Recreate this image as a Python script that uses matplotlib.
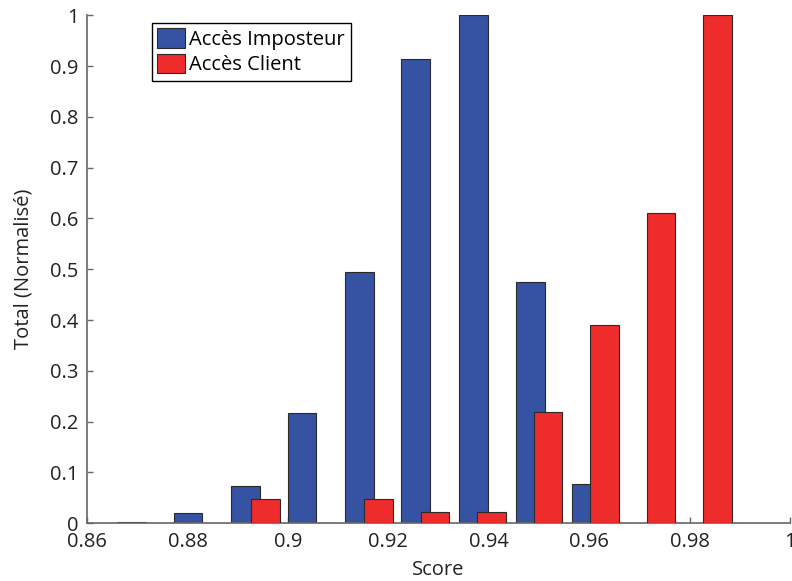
import matplotlib
matplotlib.use('Agg')
import matplotlib.pyplot as plt
from matplotlib.patches import Patch

# ---data---
imposteur_x = [0.8688, 0.8801, 0.8915, 0.9028, 0.9142, 0.9254, 0.9369, 0.9483, 0.9595]
imposteur_y = [0.003, 0.021, 0.074, 0.218, 0.494, 0.913, 1.0, 0.474, 0.077]
client_x = [0.8955, 0.9068, 0.9180, 0.9293, 0.9405, 0.9518, 0.9631, 0.9743, 0.9856]
client_y = [0.048, 0.001, 0.048, 0.023, 0.023, 0.219, 0.390, 0.610, 1.0]
xticks = [0.86, 0.88, 0.9, 0.92, 0.94, 0.96, 0.98, 1]
xticklabels = ['0.86', '0.88', '0.9', '0.92', '0.94', '0.96', '0.98', '1']
yticks = [0, 0.1, 0.2, 0.3, 0.4, 0.5, 0.6, 0.7, 0.8, 0.9, 1]
yticklabels = ['0', '0.1', '0.2', '0.3', '0.4', '0.5', '0.6', '0.7', '0.8', '0.9', '1']

blue = '#3552a3'
red = '#ee2c2c'
edge = '#2a2a2a'
bar_w = 0.0057
fs = 14.5

plt.rcParams['font.family'] = ['Open Sans', 'DejaVu Sans']
plt.rcParams['font.size'] = fs

fig = plt.figure(figsize=(7.92, 5.81), dpi=100)
ax = fig.add_axes([0.110, 0.0993, 0.8875, 0.8745])

ax.bar(imposteur_x, imposteur_y, width=bar_w, color=blue, edgecolor=edge, linewidth=0.8, zorder=2)
ax.bar(client_x, client_y, width=bar_w, color=red, edgecolor=edge, linewidth=0.8, zorder=3)

ax.set_xlim(0.86, 1.0)
ax.set_ylim(0, 1)
ax.set_xticks(xticks)
ax.set_xticklabels(xticklabels)
ax.set_yticks(yticks)
ax.set_yticklabels(yticklabels)

# matlab look: only left and bottom axis, ticks inside
for s in ['top', 'right']:
    ax.spines[s].set_visible(False)
for s in ['left', 'bottom']:
    ax.spines[s].set_color('#666666')
    ax.spines[s].set_linewidth(1.2)
ax.tick_params(direction='in', length=4, width=1, color='#666666', labelcolor='#222222', labelsize=fs)
ax.tick_params(axis='x', pad=6)
ax.tick_params(axis='y', pad=6)

ax.set_xlabel('Score', fontsize=fs, color='#222222', labelpad=6)
ax.set_ylabel('Total (Normalisé)', fontsize=fs, color='#222222', labelpad=12)

handles = [Patch(facecolor=blue, edgecolor=edge, linewidth=0.8, label='Accès Imposteur'),
           Patch(facecolor=red, edgecolor=edge, linewidth=0.8, label='Accès Client')]
leg = ax.legend(handles=handles, loc='upper left', bbox_to_anchor=(0.0917, 0.9855), borderaxespad=0,
                fancybox=False, framealpha=1, edgecolor='black', fontsize=fs,
                handlelength=1.4, handleheight=1.1, handletextpad=0.2, borderpad=0.28, labelspacing=0.2)
leg.get_frame().set_linewidth(1.0)

fig.savefig('out.png', dpi=100)
